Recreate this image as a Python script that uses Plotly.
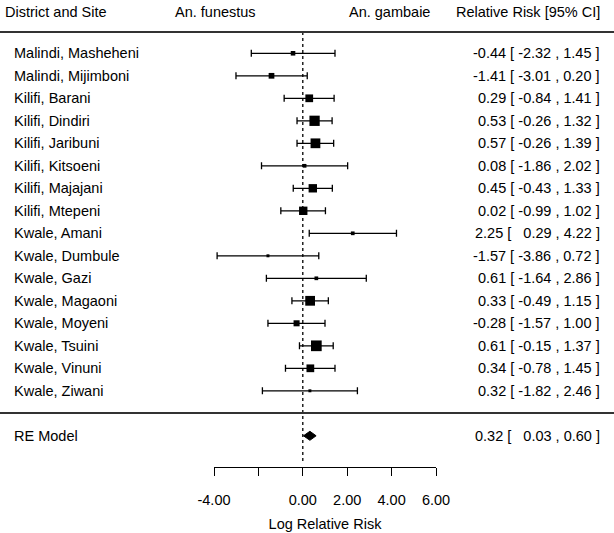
import plotly.graph_objects as go

# forest plot data (log relative risk, 95% CI)
sites = [
    "Malindi, Masheheni", "Malindi, Mijimboni", "Kilifi, Barani", "Kilifi, Dindiri",
    "Kilifi, Jaribuni", "Kilifi, Kitsoeni", "Kilifi, Majajani", "Kilifi, Mtepeni",
    "Kwale, Amani", "Kwale, Dumbule", "Kwale, Gazi", "Kwale, Magaoni",
    "Kwale, Moyeni", "Kwale, Tsuini", "Kwale, Vinuni", "Kwale, Ziwani",
]
estimate = [-0.44, -1.41, 0.29, 0.53, 0.57, 0.08, 0.45, 0.02,
            2.25, -1.57, 0.61, 0.33, -0.28, 0.61, 0.34, 0.32]
ci_low = [-2.32, -3.01, -0.84, -0.26, -0.26, -1.86, -0.43, -0.99,
          0.29, -3.86, -1.64, -0.49, -1.57, -0.15, -0.78, -1.82]
ci_high = [1.45, 0.20, 1.41, 1.32, 1.39, 2.02, 1.33, 1.02,
           4.22, 0.72, 2.86, 1.15, 1.00, 1.37, 1.45, 2.46]
weights = [4.3, 5.4, 7.3, 9.7, 9.2, 3.5, 7.9, 7.9,
           3.5, 2.8, 3.5, 9.2, 5.7, 10.1, 7.3, 2.8]

re_label = "RE Model"
re_est, re_low, re_high = 0.32, 0.03, 0.60

tick_vals = [-4, -2, 0, 2, 4, 6]
tick_text = ["-4.00", "", "0.00", "2.00", "4.00", "6.00"]

W, H = 614, 533
FONT = "Liberation Sans, Arial, sans-serif"
FS = 14.5
ROW_PX = 22.5
Y1_PX = 390.8  # pixel of the last study row


def ypx(px):
    # pixel from top -> row coordinate
    return 1 + (Y1_PX - px) / ROW_PX


n = len(sites)
rows = list(range(n, 0, -1))
re_row = -1


def fmt(e, lo, hi):
    lo_s = f"{lo:.2f}"
    if lo >= 0:
        lo_s = "\u00a0\u00a0" + lo_s
    return f"{e:.2f} [ {lo_s} , {hi:.2f} ]"


fig = go.Figure()

fig.add_trace(go.Scatter(
    x=estimate, y=rows, mode="markers",
    marker=dict(symbol="square", color="black", opacity=1,
                size=[w * 1.06 for w in weights], line=dict(width=0)),
    error_x=dict(type="data", symmetric=False,
                 array=[h - e for h, e in zip(ci_high, estimate)],
                 arrayminus=[e - l for e, l in zip(estimate, ci_low)],
                 color="black", thickness=1.3, width=3.5),
    showlegend=False, hoverinfo="skip",
))

# summary diamond
fig.add_trace(go.Scatter(
    x=[re_low, re_est, re_high, re_est, re_low],
    y=[re_row, re_row + 0.2, re_row, re_row - 0.2, re_row],
    mode="lines", fill="toself", fillcolor="black",
    line=dict(color="black", width=1), showlegend=False, hoverinfo="skip",
))

shapes = [
    dict(type="line", xref="x", yref="y", x0=0, x1=0, y0=ypx(32), y1=ypx(461),
         line=dict(color="black", width=1.3, dash="dot")),
    dict(type="line", xref="paper", yref="y", x0=0, x1=1, y0=ypx(32), y1=ypx(32),
         line=dict(color="#333", width=2)),
    dict(type="line", xref="paper", yref="y", x0=0, x1=1, y0=ypx(413), y1=ypx(413),
         line=dict(color="#333", width=2)),
]

ann = []
hy = ypx(12)
ann.append(dict(x=3 / W, y=hy, text="District and Site", xanchor="left"))
ann.append(dict(x=173 / W, y=hy, text="An. funestus", xanchor="left"))
ann.append(dict(x=432 / W, y=hy, text="An. gambaie", xanchor="right"))
ann.append(dict(x=602 / W, y=hy, text="Relative Risk [95% CI]", xanchor="right"))
for s, r, e, lo, hi in zip(sites, rows, estimate, ci_low, ci_high):
    ann.append(dict(x=12 / W, y=r, text=s, xanchor="left"))
    ann.append(dict(x=602 / W, y=r, text=fmt(e, lo, hi), xanchor="right"))
ann.append(dict(x=12 / W, y=re_row, text=re_label, xanchor="left"))
ann.append(dict(x=602 / W, y=re_row, text=fmt(re_est, re_low, re_high), xanchor="right"))
for a in ann:
    a.update(xref="paper", yref="y", showarrow=False, yanchor="middle",
             font=dict(family=FONT, size=FS, color="black"))

fig.update_layout(
    width=W, height=H,
    margin=dict(l=0, r=0, t=0, b=0, pad=0, autoexpand=False),
    paper_bgcolor="white", plot_bgcolor="white",
    font=dict(family=FONT, size=FS, color="black"),
    shapes=shapes, annotations=ann,
    xaxis=dict(
        domain=[214 / W, 436 / W], range=[-4, 6],
        anchor="free", position=(H - 467) / H, automargin=False,
        showline=True, linecolor="black", linewidth=1.3,
        ticks="outside", ticklen=8, tickwidth=1.3, tickcolor="black",
        tickvals=tick_vals, ticktext=tick_text, ticklabelstandoff=11,
        showgrid=False, zeroline=False,
        title=dict(text="Log Relative Risk", standoff=12, font=dict(size=FS)),
    ),
    yaxis=dict(range=[ypx(H), ypx(0)], visible=False, domain=[0, 1], automargin=False),
)

# page body has a default margin; drop it so the figure fills the window
fig.write_html("out.html", config={"displayModeBar": False},
               post_script="document.body.style.margin='0';")
